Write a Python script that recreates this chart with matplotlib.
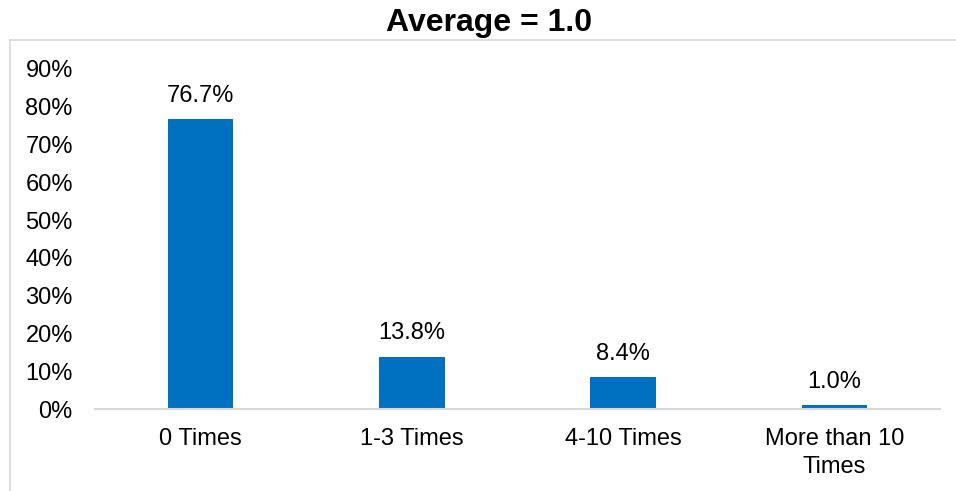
import matplotlib
matplotlib.use("Agg")
from matplotlib import pyplot as plt
from matplotlib.lines import Line2D
from matplotlib.ticker import FuncFormatter

categories = ["0 Times", "1-3 Times", "4-10 Times", "More than 10\nTimes"]
values = [76.7, 13.8, 8.4, 1.0]
title = "Average = 1.0"

plt.rcParams['font.family'] = ['Liberation Sans', 'DejaVu Sans']

W, H = 956, 491
fig = plt.figure(figsize=(W / 100, H / 100), dpi=100)
ax = fig.add_axes([95 / W, (H - 409) / H, (940 - 95) / W, (409 - 69) / H])

x = range(len(categories))
bars = ax.bar(x, values, width=0.31, color='#0070C0', zorder=2)
for b, v in zip(bars, values):
    ax.annotate("{:.1f}%".format(v), (b.get_x() + b.get_width() / 2, v),
                xytext=(0, 9), textcoords='offset points',
                ha='center', va='bottom', fontsize=17, color='#000000')

ax.set_xlim(-0.5, len(categories) - 0.5)
ax.set_ylim(0, 90)
ax.set_yticks(range(0, 91, 10))
ax.yaxis.set_major_formatter(FuncFormatter(lambda v, p: "{:.0f}%".format(v)))
ax.set_xticks(list(x))
ax.set_xticklabels(categories, linespacing=1.35)
ax.tick_params(axis='both', length=0, labelsize=17, colors='#000000')
ax.tick_params(axis='y', pad=16)
ax.tick_params(axis='x', pad=13.5)

for s in ['top', 'right', 'left']:
    ax.spines[s].set_visible(False)
ax.spines['bottom'].set_color('#D9D9D9')
ax.spines['bottom'].set_linewidth(1.5)

# chart border (only left and top visible in the crop)
fig.add_artist(Line2D([9.5 / W, 9.5 / W], [0, (H - 40) / H], color='#D9D9D9', lw=1.2))
fig.add_artist(Line2D([9.5 / W, 1], [(H - 40) / H, (H - 40) / H], color='#D9D9D9', lw=1.2))

fig.text(489 / W, (H - 23) / H, title, ha='center', va='center',
         fontsize=23, fontweight='bold')

fig.savefig("out.png", dpi=100)
